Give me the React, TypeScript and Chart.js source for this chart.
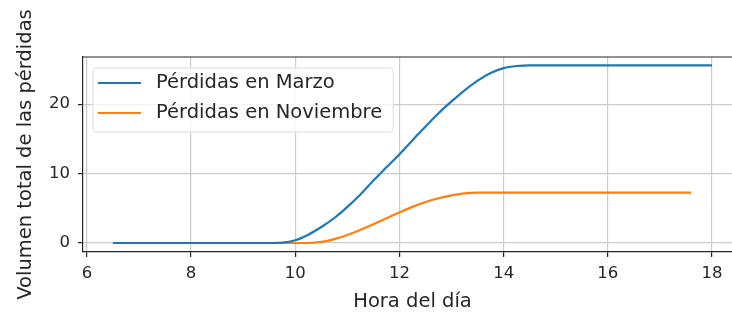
import React, { useEffect, useRef } from "react";
import { Chart, registerables } from "chart.js";

Chart.register(...registerables);

const marzoHoras = [6.5, 7, 7.5, 8, 8.5, 9, 9.5, 9.75, 10, 10.25, 10.5, 10.75, 11, 11.25, 11.5, 11.75, 12, 12.25, 12.5, 12.75, 13, 13.25, 13.5, 13.75, 14, 14.25, 14.5, 15, 16, 17, 18];
const marzoValores = [0, 0, 0, 0, 0, 0, 0, 0.05, 0.4, 1.2, 2.3, 3.6, 5.2, 7.0, 9.0, 10.9, 12.8, 14.8, 16.8, 18.7, 20.4, 22.0, 23.4, 24.5, 25.2, 25.5, 25.6, 25.6, 25.6, 25.6, 25.6];

const noviembreHoras = [6.6, 7, 8, 9, 10, 10.25, 10.5, 10.75, 11, 11.25, 11.5, 11.75, 12, 12.25, 12.5, 12.75, 13, 13.25, 13.5, 14, 15, 16, 17, 17.6];
const noviembreValores = [0, 0, 0, 0, 0, 0, 0.15, 0.55, 1.15, 1.9, 2.7, 3.55, 4.4, 5.2, 5.9, 6.45, 6.85, 7.15, 7.25, 7.25, 7.25, 7.25, 7.25, 7.25];

const xTicks = [6, 8, 10, 12, 14, 16, 18];
const yTicks = [0, 10, 20];

const serieLabels = ["Pérdidas en Marzo", "Pérdidas en Noviembre"];
const serieColors = ["#1f77b4", "#ff7f0e"];

const FONT = "'DejaVu Sans', sans-serif";
const TEXT = "#262626";
const AXIS = "#262626";
const GRID = "#cbcbcb";
const TICK_SIZE = 16.5;
const LABEL_SIZE = 19.5;

const framePlugin = {
  id: "frameAndLegend",
  afterDatasetsDraw(chart: any) {
    const { ctx, chartArea } = chart;
    ctx.save();
    ctx.strokeStyle = AXIS;
    ctx.lineWidth = 1.2;
    ctx.beginPath();
    ctx.moveTo(chartArea.left, chartArea.top);
    ctx.lineTo(chartArea.right, chartArea.top);
    ctx.lineTo(chartArea.right, chartArea.bottom);
    ctx.stroke();

    const ds = chart.data.datasets;
    ctx.font = `${LABEL_SIZE}px ${FONT}`;
    const boxX = chartArea.left + 10;
    const boxY = chartArea.top + 11;
    const textX = boxX + 63;
    let maxW = 0;
    ds.forEach((d: any) => {
      maxW = Math.max(maxW, ctx.measureText(d.label).width);
    });
    const boxW = textX - boxX + maxW + 11;
    const boxH = 64;
    const r = 3;
    ctx.beginPath();
    ctx.moveTo(boxX + r, boxY);
    ctx.lineTo(boxX + boxW - r, boxY);
    ctx.arcTo(boxX + boxW, boxY, boxX + boxW, boxY + r, r);
    ctx.lineTo(boxX + boxW, boxY + boxH - r);
    ctx.arcTo(boxX + boxW, boxY + boxH, boxX + boxW - r, boxY + boxH, r);
    ctx.lineTo(boxX + r, boxY + boxH);
    ctx.arcTo(boxX, boxY + boxH, boxX, boxY + boxH - r, r);
    ctx.lineTo(boxX, boxY + r);
    ctx.arcTo(boxX, boxY, boxX + r, boxY, r);
    ctx.closePath();
    ctx.fillStyle = "rgba(255,255,255,0.8)";
    ctx.fill();
    ctx.strokeStyle = "#dcdcdc";
    ctx.lineWidth = 1;
    ctx.stroke();

    ds.forEach((d: any, i: number) => {
      const cy = boxY + 15 + i * 30;
      ctx.strokeStyle = d.borderColor;
      ctx.lineWidth = 2.2;
      ctx.beginPath();
      ctx.moveTo(boxX + 5, cy);
      ctx.lineTo(boxX + 48, cy);
      ctx.stroke();
      ctx.fillStyle = TEXT;
      ctx.textAlign = "left";
      ctx.textBaseline = "middle";
      ctx.fillText(d.label, textX, cy);
    });
    ctx.restore();
  },
};

export default function App() {
  const ref = useRef<HTMLCanvasElement | null>(null);

  useEffect(() => {
    if (!ref.current) return;
    const chart = new Chart(ref.current, {
      type: "line",
      data: {
        datasets: [
          {
            label: serieLabels[0],
            data: marzoHoras.map((h, i) => ({ x: h, y: marzoValores[i] })),
            borderColor: serieColors[0],
            backgroundColor: serieColors[0],
            borderWidth: 2.2,
            pointRadius: 0,
            cubicInterpolationMode: "monotone",
            fill: false,
          },
          {
            label: serieLabels[1],
            data: noviembreHoras.map((h, i) => ({ x: h, y: noviembreValores[i] })),
            borderColor: serieColors[1],
            backgroundColor: serieColors[1],
            borderWidth: 2.2,
            pointRadius: 0,
            cubicInterpolationMode: "monotone",
            fill: false,
          },
        ],
      },
      options: {
        responsive: false,
        animation: false,
        devicePixelRatio: 1,
        layout: { padding: { top: 57, right: 8, bottom: 0, left: 0 } },
        plugins: { legend: { display: false }, tooltip: { enabled: false } },
        scales: {
          x: {
            type: "linear",
            min: 5.925,
            max: 18.575,
            grid: { color: GRID, lineWidth: 1.2, tickLength: 5, tickColor: AXIS, tickWidth: 1.2 },
            border: { color: AXIS, width: 1.2 },
            ticks: { padding: 7, color: TEXT, font: { family: FONT, size: TICK_SIZE } },
            title: {
              display: true,
              text: "Hora del día",
              color: TEXT,
              font: { family: FONT, size: LABEL_SIZE },
              padding: { top: 0, bottom: 0 },
            },
            afterBuildTicks: (s: any) => {
              s.ticks = xTicks.map((v) => ({ value: v }));
            },
            afterFit: (s: any) => {
              s.height = 62;
            },
          },
          y: {
            type: "linear",
            min: -1.3,
            max: 26.8,
            grid: { color: GRID, lineWidth: 1.2, tickLength: 5, tickColor: AXIS, tickWidth: 1.2 },
            border: { color: AXIS, width: 1.2 },
            ticks: { padding: 8, color: TEXT, font: { family: FONT, size: TICK_SIZE } },
            title: {
              display: true,
              text: "Volumen total de las pérdidas",
              color: TEXT,
              font: { family: FONT, size: LABEL_SIZE },
              padding: { top: 14, bottom: 0 },
            },
            afterBuildTicks: (s: any) => {
              s.ticks = yTicks.map((v) => ({ value: v }));
            },
            afterFit: (s: any) => {
              s.width = 83;
            },
          },
        },
      },
      plugins: [framePlugin],
    } as any);
    return () => chart.destroy();
  }, []);

  return (
    <div
      style={{
        position: "fixed",
        left: 0,
        top: 0,
        width: 732,
        height: 314,
        overflow: "hidden",
        background: "#fff",
      }}
    >
      <canvas ref={ref} width={750} height={314} style={{ display: "block" }} />
    </div>
  );
}
